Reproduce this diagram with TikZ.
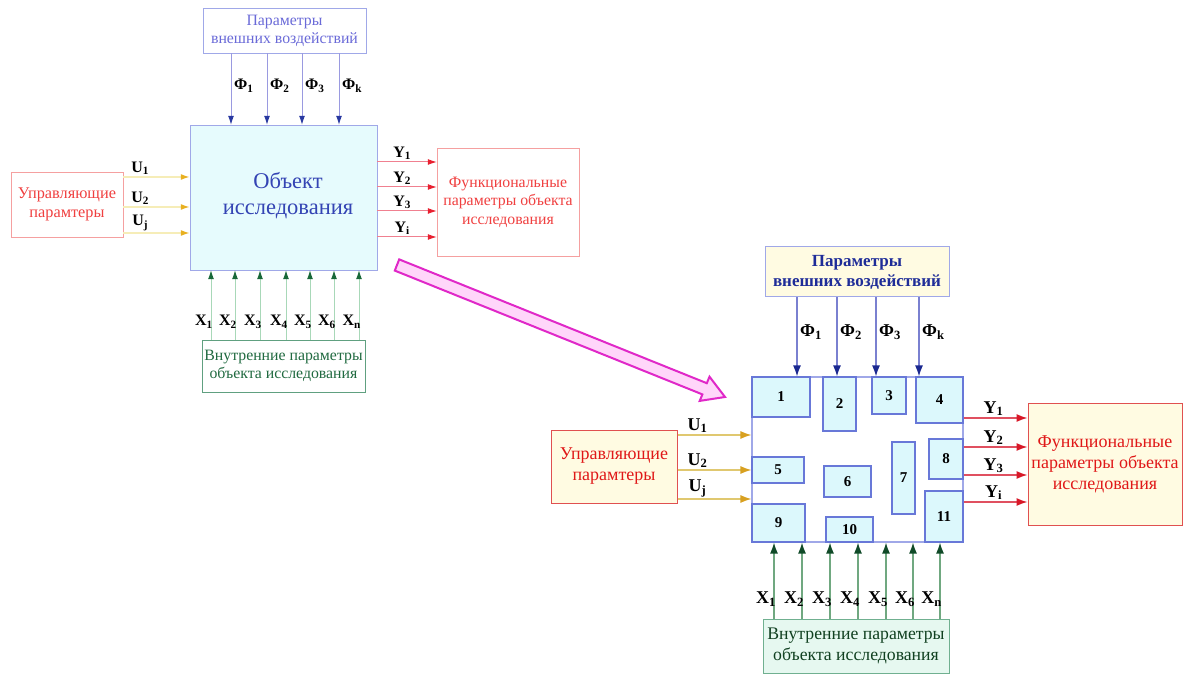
\documentclass[tikz,border=0pt]{standalone}
\usepackage{fontspec}
\setmainfont{Liberation Serif}
\usetikzlibrary{arrows.meta}
\definecolor{phiLineA}{HTML}{9A9AE0}
\definecolor{phiHeadA}{HTML}{2838A0}
\definecolor{phiLineB}{HTML}{7A80D0}
\definecolor{phiHeadB}{HTML}{1A2890}
\definecolor{uLineA}{HTML}{F6EDB8}
\definecolor{uHeadA}{HTML}{E8B020}
\definecolor{uLineB}{HTML}{E0C870}
\definecolor{uHeadB}{HTML}{D8A020}
\definecolor{yLineA}{HTML}{F08090}
\definecolor{yHeadA}{HTML}{E82030}
\definecolor{yLineB}{HTML}{E05060}
\definecolor{yHeadB}{HTML}{D81828}
\definecolor{xLineA}{HTML}{A8D8B8}
\definecolor{xHeadA}{HTML}{186838}
\definecolor{xLineB}{HTML}{70A880}
\definecolor{xHeadB}{HTML}{104A28}
\definecolor{cyanFill}{HTML}{E6FBFD}
\definecolor{cellFill}{HTML}{DCF8FC}
\definecolor{cellDraw}{HTML}{6878D8}
\definecolor{boxBlue}{HTML}{A0A8E8}
\definecolor{txtBlueA}{HTML}{6A6AD8}
\definecolor{txtBlueB}{HTML}{1E2C98}
\definecolor{objBlue}{HTML}{3444B4}
\definecolor{redDrawA}{HTML}{F5A0A0}
\definecolor{redTxtA}{HTML}{F04040}
\definecolor{redDrawB}{HTML}{E05050}
\definecolor{redTxtB}{HTML}{E01818}
\definecolor{greenDrawA}{HTML}{60A080}
\definecolor{greenTxtA}{HTML}{206A40}
\definecolor{greenDrawB}{HTML}{70B090}
\definecolor{greenTxtB}{HTML}{104020}
\definecolor{greenFill}{HTML}{E6F8F0}
\definecolor{yellowFill}{HTML}{FFFBE2}
\definecolor{pinkFill}{HTML}{FFD6FA}
\definecolor{pinkDraw}{HTML}{E028C8}
\newcommand\sublab[2]{\textbf{#1}\textsubscript{\textbf{#2}}}
\begin{document}
\begin{tikzpicture}[x=1pt,y=-1pt,
  box/.style={draw, rectangle, inner sep=0pt, align=center},
  cell/.style={draw=cellDraw, fill=cellFill, line width=1.4pt, rectangle, inner sep=0pt, font=\fontsize{15}{15}\selectfont\bfseries},
  phiA/.style={draw=phiLineA, line width=1pt, -{Latex[length=9pt,width=6pt,color=phiHeadA]}},
  phiB/.style={draw=phiLineB, line width=1.3pt, -{Latex[length=11pt,width=8pt,color=phiHeadB]}},
  uA/.style={draw=uLineA, line width=1.6pt, -{Latex[length=9pt,width=6pt,color=uHeadA]}},
  uB/.style={draw=uLineB, line width=1.3pt, -{Latex[length=11pt,width=8pt,color=uHeadB]}},
  yA/.style={draw=yLineA, line width=1pt, -{Latex[length=9pt,width=6pt,color=yHeadA]}},
  yB/.style={draw=yLineB, line width=1.3pt, -{Latex[length=11pt,width=8pt,color=yHeadB]}},
  xA/.style={draw=xLineA, line width=1pt, -{Latex[length=9pt,width=6pt,color=xHeadA]}},
  xB/.style={draw=xLineB, line width=1.3pt, -{Latex[length=11pt,width=8pt,color=xHeadB]}},
  labA/.style={inner sep=0pt, font=\fontsize{16}{16}\selectfont},
  labB/.style={inner sep=0pt, font=\fontsize{18}{18}\selectfont},
]
\useasboundingbox (0,0) rectangle (1184,676);
\fill[white] (0,0) rectangle (1184,676);

% ================= LEFT DIAGRAM =================
\node[box, draw=boxBlue, text=txtBlueA, minimum width=163pt, minimum height=45pt,
  font=\fontsize{15.8}{18}\selectfont] (T1) at (284.5,30.5) {Параметры\\внешних воздействий};
\node[box, draw=boxBlue, fill=cyanFill, minimum width=187pt, minimum height=145pt] (M1) at (283.5,197.5) {};
\node[text=objBlue, align=center, font=\fontsize{22.5}{26}\selectfont] (M1t) at (288,196) {Объект\\исследования};
\node[box, draw=redDrawA, text=redTxtA, minimum width=112pt, minimum height=65pt,
  font=\fontsize{16.3}{19}\selectfont] (L1) at (67,204.5) {Управляющие\\парамтеры};
\node[box, draw=redDrawA, text=redTxtA, minimum width=142pt, minimum height=108pt,
  font=\fontsize{15.8}{18.5}\selectfont] (R1) at (508,202) {Функциональные\\параметры объекта\\исследования};
\node[box, draw=greenDrawA, text=greenTxtA, minimum width=163pt, minimum height=52pt,
  font=\fontsize{15.8}{18.5}\selectfont] (B1) at (283.5,366) {Внутренние параметры\\объекта исследования};

% Phi arrows
\foreach \i/\x/\s in {1/231/1,2/267/2,3/302/3,4/339/k}{
  \coordinate (fa\i) at (\x,0);
  \draw[phiA] (T1.south -| fa\i) -- (M1.north -| fa\i);
  \node[labA, anchor=west] (fal\i) at ([xshift=3pt]fa\i |- 0,86) {\sublab{Φ}{\s}};
}
% U arrows
\foreach \i/\y/\s in {1/177/1,2/207/2,3/233/j}{
  \coordinate (ua\i) at (0,\y);
  \draw[uA] (L1.east |- ua\i) -- (M1.west |- ua\i);
  \node[labA, anchor=south] (ual\i) at ([xshift=17pt,yshift=2pt]L1.east |- ua\i) {\sublab{U}{\s}};
}
% Y arrows
\foreach \i/\y/\s in {1/162/1,2/187/2,3/211/3,4/237/i}{
  \coordinate (ya\i) at (0,\y);
  \draw[yA] (M1.east |- ya\i) -- (R1.west |- ya\i);
  \node[labA, anchor=south] (yal\i) at ([xshift=25pt,yshift=2pt]M1.east |- ya\i) {\sublab{Y}{\s}};
}
% X arrows
\foreach \i/\x/\s in {1/211/1,2/235/2,3/260/3,4/286/4,5/310/5,6/334/6,7/359/n}{
  \coordinate (xa\i) at (\x,0);
  \draw[xA] (B1.north -| xa\i) -- (M1.south -| xa\i);
  \node[labA, anchor=east] (xal\i) at ([xshift=2pt]xa\i |- 0,322) {\sublab{X}{\s}};
}

% ================= PINK ARROW =================
\draw[fill=pinkFill, draw=pinkDraw, line width=2pt, line join=miter]
  (394.8,270.6) -- (702.4,394.4) -- (699.7,400.9) -- (725,397) -- (709.5,376.7)
  -- (706.8,383.2) -- (399.2,259.4) -- cycle;

% ================= RIGHT DIAGRAM =================
\node[box, draw=boxBlue, fill=yellowFill, text=txtBlueB, line width=1pt, minimum width=184pt, minimum height=50pt,
  font=\fontsize{17}{20}\selectfont\bfseries] (T2) at (857,272) {Параметры\\внешних воздействий};
\node[box, draw=boxBlue, fill=white, line width=1.2pt, minimum width=211pt, minimum height=165pt] (M2) at (857.5,459.5) {};
\node[box, draw=redDrawB, fill=yellowFill, text=redTxtB, line width=1pt, minimum width=126pt, minimum height=73pt,
  font=\fontsize{18}{21}\selectfont] (L2) at (614,466.5) {Управляющие\\парамтеры};
\node[box, draw=redDrawB, fill=yellowFill, text=redTxtB, line width=1pt, minimum width=154pt, minimum height=122pt,
  font=\fontsize{18}{21}\selectfont] (R2) at (1105,464) {Функциональные\\параметры объекта\\исследования};
\node[box, draw=greenDrawB, fill=greenFill, text=greenTxtB, line width=1pt, minimum width=186pt, minimum height=54pt,
  font=\fontsize{17.7}{21}\selectfont] (B2) at (856,646) {Внутренние параметры\\объекта исследования};

% cells
\node[cell, minimum width=58pt, minimum height=40pt] (c1) at (781,397) {1};
\node[cell, minimum width=33pt, minimum height=54pt] (c2) at (839.5,404) {2};
\node[cell, minimum width=34pt, minimum height=37pt] (c3) at (889,395.5) {3};
\node[cell, minimum width=47pt, minimum height=46pt] (c4) at (939.5,400) {4};
\node[cell, minimum width=52pt, minimum height=26pt] (c5) at (778,470) {5};
\node[cell, minimum width=47pt, minimum height=31pt] (c6) at (847.5,481.5) {6};
\node[cell, minimum width=23pt, minimum height=72pt] (c7) at (903.5,478) {7};
\node[cell, minimum width=34pt, minimum height=40pt] (c8) at (946,459) {8};
\node[cell, minimum width=53pt, minimum height=38pt] (c9) at (778.5,523) {9};
\node[cell, minimum width=47pt, minimum height=25pt] (c10) at (849.5,529.5) {10};
\node[cell, minimum width=38pt, minimum height=51pt] (c11) at (944,516.5) {11};

% Phi arrows
\foreach \i/\x/\s in {1/797/1,2/837/2,3/876/3,4/919/k}{
  \coordinate (fb\i) at (\x,0);
  \draw[phiB] (T2.south -| fb\i) -- (M2.north -| fb\i);
  \node[labB, anchor=west] (fbl\i) at ([xshift=3pt]fb\i |- 0,332) {\sublab{Φ}{\s}};
}
% U arrows
\foreach \i/\y/\s in {1/435/1,2/470/2,3/499/j}{
  \coordinate (ub\i) at (0,\y);
  \draw[uB] (L2.east |- ub\i) -- (M2.west |- ub\i);
  \node[labB, anchor=south] (ubl\i) at ([xshift=20pt,yshift=2pt]L2.east |- ub\i) {\sublab{U}{\s}};
}
% Y arrows
\foreach \i/\y/\s in {1/418/1,2/447/2,3/475/3,4/502/i}{
  \coordinate (yb\i) at (0,\y);
  \draw[yB] (M2.east |- yb\i) -- (R2.west |- yb\i);
  \node[labB, anchor=south] (ybl\i) at ([xshift=30pt,yshift=2pt]M2.east |- yb\i) {\sublab{Y}{\s}};
}
% X arrows
\foreach \i/\x/\s in {1/774/1,2/802/2,3/830/3,4/858/4,5/886/5,6/913/6,7/940/n}{
  \coordinate (xb\i) at (\x,0);
  \draw[xB] (B2.north -| xb\i) -- (M2.south -| xb\i);
  \node[labB, anchor=east] (xbl\i) at ([xshift=2pt]xb\i |- 0,599) {\sublab{X}{\s}};
}
\end{tikzpicture}
\end{document}
